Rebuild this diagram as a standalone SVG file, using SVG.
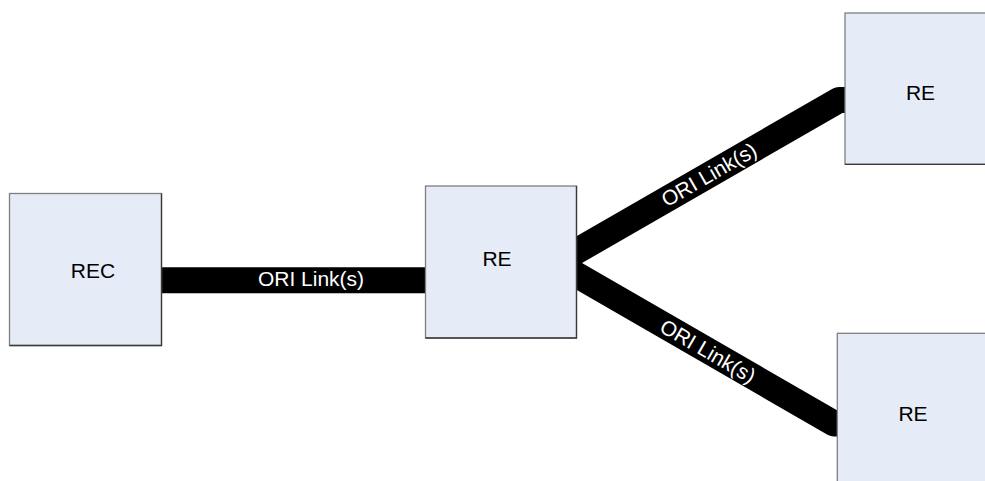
<svg xmlns="http://www.w3.org/2000/svg" width="985" height="481" viewBox="0 0 985 481">
  <style>
    .box { fill: #E6ECF7; stroke: #7f7f7f; stroke-width: 1.3; }
    .shade { fill: none; stroke: #3a3a3a; stroke-width: 1.3; }
    .lbl { font-family: "Liberation Sans", Arial, sans-serif; font-size: 21px; fill: #000; text-anchor: middle; }
    .link { fill: none; stroke: #000; stroke-width: 26; stroke-linejoin: round; stroke-linecap: butt; }
    .ltxt { font-family: "Liberation Sans", Arial, sans-serif; font-size: 21px; fill: #fff; text-anchor: middle; }
  </style>
  <rect width="985" height="481" fill="#fff"/>
  <g id="connectors">
    <path class="link" d="M150,280.3 H440"/>
    <path class="link" d="M556,263 L839,100 H850"/>
    <path class="link" d="M556,263 L834,423.5 H845"/>
    <text class="ltxt" x="311" y="286">ORI Link(s)</text>
    <text class="ltxt" x="709" y="182" transform="rotate(-30 709 174.6)">ORI Link(s)</text>
    <text class="ltxt" x="708" y="358.5" transform="rotate(30 708 351)">ORI Link(s)</text>
  </g>
  <g id="node-rec">
    <rect class="box" x="9.5" y="193.5" width="152" height="152"/>
    <path class="shade" d="M161.5,193.5 V345.5 H9.5"/>
    <text class="lbl" x="93" y="278">REC</text>
  </g>
  <g id="node-re-mid">
    <rect class="box" x="425.5" y="186" width="151" height="152"/>
    <path class="shade" d="M576.5,186 V338 H425.5"/>
    <text class="lbl" x="497" y="265.7">RE</text>
  </g>
  <g id="node-re-top">
    <rect class="box" x="845" y="13" width="150" height="151.3"/>
    <path class="shade" d="M845,164.3 H995"/>
    <text class="lbl" x="920.5" y="100">RE</text>
  </g>
  <g id="node-re-bottom">
    <rect class="box" x="837.3" y="333.3" width="160" height="160"/>
    <text class="lbl" x="913" y="420.7">RE</text>
  </g>
</svg>
